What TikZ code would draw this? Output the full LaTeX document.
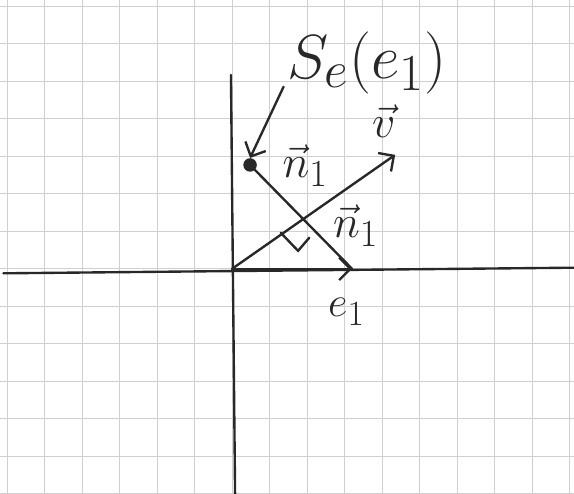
\documentclass[tikz,border=0pt]{standalone}
\usepackage{xcolor}
\usepackage{tikz}
\usetikzlibrary{arrows.meta,positioning}
\definecolor{gridgray}{RGB}{208,208,208}
\definecolor{penink}{RGB}{40,40,40}

\begin{document}
\begin{tikzpicture}[every node/.style={font=\Huge, text=penink}, ink/.style={draw=penink, line width=1.8pt, line cap=round}]
    \useasboundingbox (-6.19,-6.0) rectangle (9.12,7.17);
    \fill[white] (-6.19,-6.0) rectangle (9.12,7.17);
    \draw[gridgray, line width=0.7pt] (-6.19,-6.0) grid (9.12,7.17);
    
    \coordinate (orig) at (0,0);
    \coordinate (xleft) at (-6.1,-0.12);
    \coordinate (xright) at (9.12,0.03);
    \coordinate (ytop) at (-0.03,5.17);
    \coordinate (ybot) at (0.08,-6.0);
    \coordinate (vtip) at (4.35,3.04);
    \coordinate (eone) at (3.2,0);
    \coordinate (cross) at (1.68,1.36);
    \node[circle, fill=penink, inner sep=0pt, minimum size=0.36cm] (refl) at (0.48,2.77) {};
    
    \node[scale=1.9] (slabel) at (3.6,5.5) {$S_e(e_1)$};
    \node[scale=1.4] (vlabel) at (4.05,3.95) {$\vec{v}$};
    \node[scale=1.4] (nup) at (1.95,2.75) {$\vec{n}_1$};
    \node[scale=1.4] (ndown) at (3.3,1.15) {$\vec{n}_1$};
    \node[scale=1.3] (elabel) at (3.05,-1.15) {$e_1$};
    
    \draw[ink] (xleft) -- (xright);
    \draw[ink] (ytop) -- (ybot);
    \draw[ink, -{Straight Barb[length=3mm]}] (orig) -- (vtip);
    \draw[ink, -{Straight Barb[length=3mm]}] (orig) -- (eone);
    \draw[ink] (refl) -- (eone);
    \draw[ink, -{Straight Barb[length=3mm]}] ([xshift=4pt, yshift=12pt]slabel.south west) -- (refl.north);
    \draw[ink] (1.3,0.96) -- (1.76,0.48) -- (2.06,0.83);
\end{tikzpicture}
\end{document}
